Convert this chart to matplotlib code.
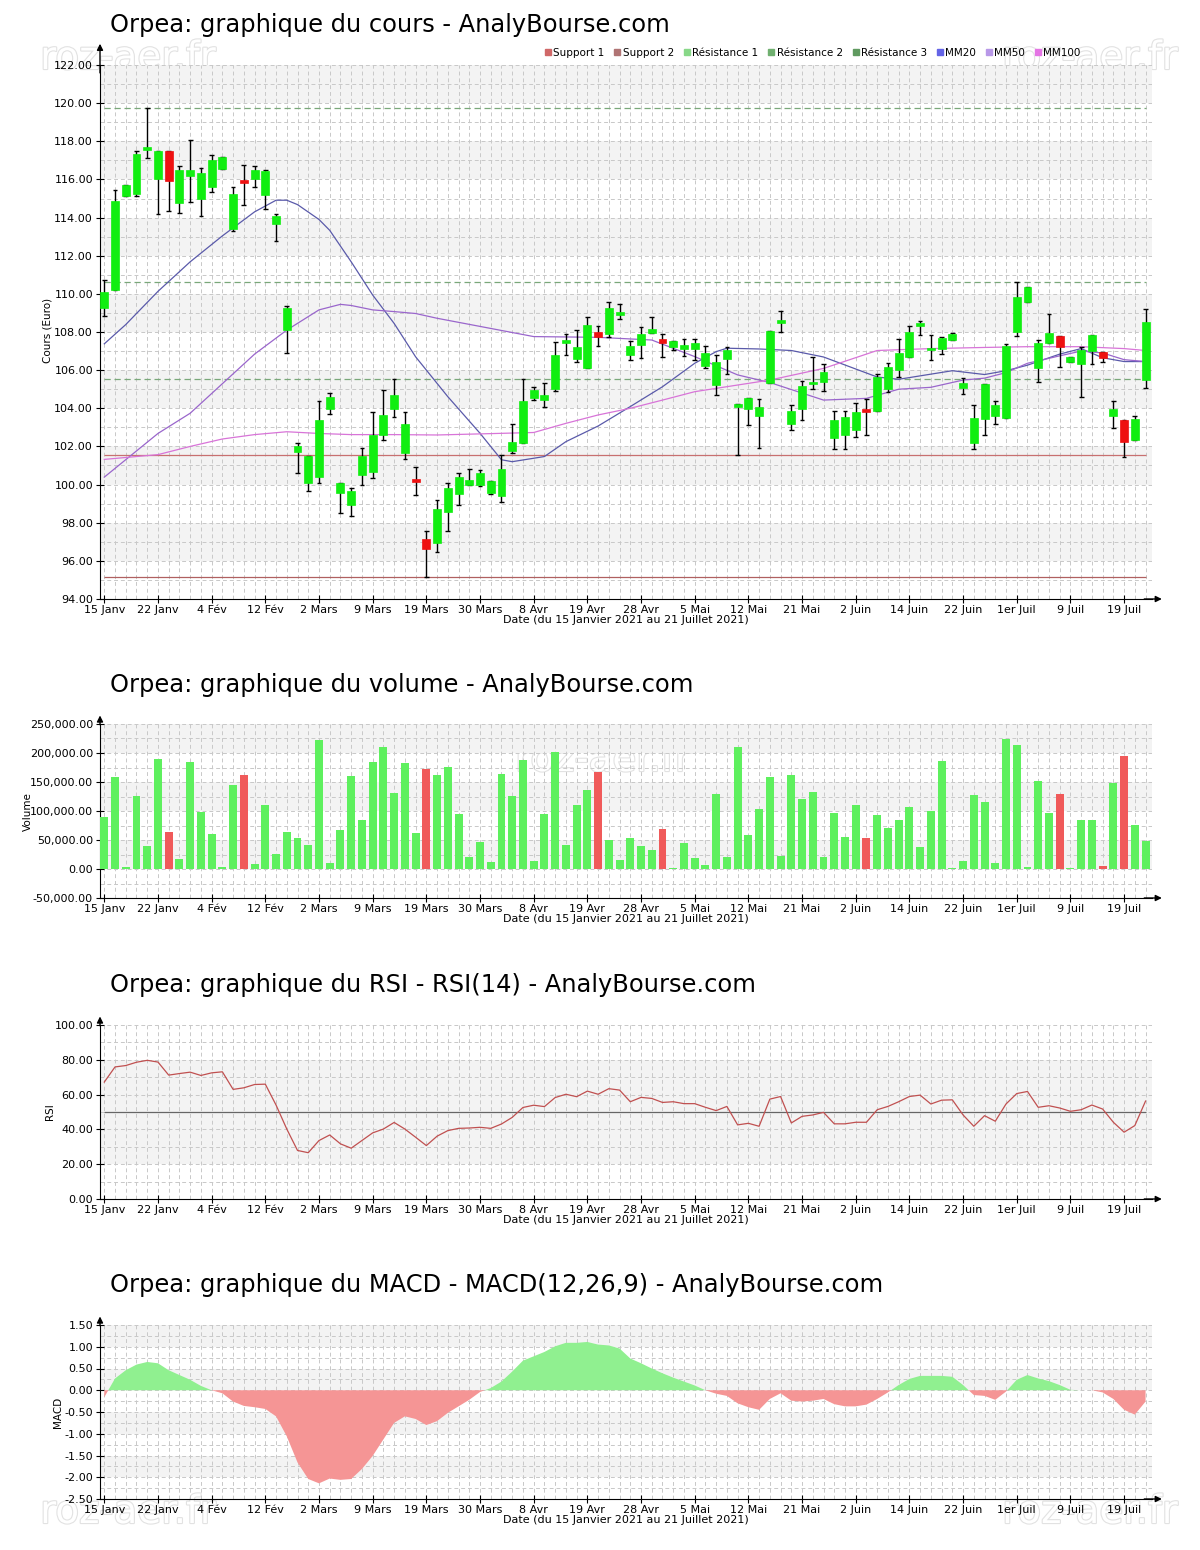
import numpy as np
import matplotlib
matplotlib.use("Agg")
import matplotlib.pyplot as plt
from matplotlib.patches import Rectangle
from matplotlib.lines import Line2D
import matplotlib.patheffects as pe

# ---- données (98 séances) ----
tick_labels = ['15 Janv', '22 Janv', '4 Fév', '12 Fév', '2 Mars', '9 Mars', '19 Mars',
               '30 Mars', '8 Avr', '19 Avr', '28 Avr', '5 Mai', '12 Mai', '21 Mai',
               '2 Juin', '14 Juin', '22 Juin', '1er Juil', '9 Juil', '19 Juil']

opens = [109.26, 110.19, 115.13, 115.26, 117.53, 116.00, 117.49, 114.78, 116.19, 114.97,
         115.60, 116.56, 113.42, 115.95, 116.00, 115.17, 113.65, 108.10, 101.71, 100.06,
         100.39, 103.97, 99.58, 98.94, 100.49, 100.64, 102.58, 103.97, 101.65, 100.25,
         97.12, 96.93, 98.55, 99.52, 99.97, 99.97, 99.58, 99.39, 101.77, 102.19,
         104.52, 104.42, 105.00, 107.45, 106.59, 106.10, 108.00, 107.90, 108.93, 106.78,
         107.32, 107.94, 107.65, 107.23, 107.09, 107.09, 106.22, 105.23, 106.61, 104.07,
         103.94, 103.61, 105.33, 108.50, 103.16, 103.94, 105.28, 105.39, 102.43, 102.62,
         102.87, 103.92, 103.84, 105.00, 106.01, 106.70, 108.33, 107.03, 107.13, 107.58,
         105.06, 102.19, 103.45, 103.59, 103.51, 108.00, 109.55, 106.10, 107.42, 107.81,
         106.41, 106.30, 107.00, 106.94, 103.59, 103.41, 102.35, 105.48]
highs = [110.71, 115.44, 115.71, 117.49, 119.75, 117.50, 117.49, 116.68, 118.05, 116.58,
         117.26, 117.20, 115.59, 116.77, 116.68, 116.52, 114.20, 109.36, 102.19, 101.52,
         104.38, 104.81, 100.10, 99.83, 101.94, 103.78, 104.94, 105.52, 103.82, 100.93,
         97.55, 99.19, 100.10, 100.61, 100.80, 100.78, 100.20, 101.56, 103.16, 105.52,
         105.10, 105.33, 107.48, 107.87, 108.10, 108.78, 108.29, 109.59, 109.45, 107.52,
         108.25, 108.78, 107.87, 107.52, 107.65, 107.65, 107.27, 106.78, 107.19, 104.23,
         104.56, 104.48, 108.04, 109.12, 104.17, 105.45, 106.70, 106.30, 103.88, 103.88,
         104.29, 104.48, 105.78, 106.36, 107.65, 108.33, 108.58, 107.85, 107.75, 107.96,
         105.58, 104.17, 105.29, 104.38, 107.36, 110.62, 110.36, 107.58, 108.93, 107.81,
         106.70, 107.19, 107.85, 106.94, 104.38, 103.41, 103.59, 109.20]
lows = [108.83, 110.19, 115.13, 115.13, 117.10, 114.20, 114.37, 114.24, 114.82, 114.10,
        115.36, 116.56, 113.27, 114.64, 115.59, 114.43, 112.76, 106.90, 100.59, 99.64,
        100.10, 103.70, 98.50, 98.36, 99.97, 100.35, 102.35, 103.55, 101.36, 99.43,
        95.13, 96.48, 97.59, 98.94, 99.97, 99.93, 99.50, 99.10, 101.65, 102.19,
        104.42, 104.09, 104.90, 106.80, 106.45, 106.10, 107.29, 107.75, 108.68, 106.55,
        106.65, 107.94, 106.69, 107.07, 106.74, 106.55, 106.12, 104.71, 105.78, 101.56,
        103.13, 101.90, 105.33, 108.00, 102.87, 103.36, 105.00, 104.90, 101.84, 101.84,
        102.48, 102.58, 103.84, 104.87, 105.64, 106.70, 107.85, 106.55, 106.84, 107.58,
        104.75, 101.84, 102.58, 103.16, 103.51, 107.81, 109.55, 105.39, 107.42, 106.16,
        106.41, 104.61, 106.30, 106.41, 102.97, 101.46, 102.35, 105.06]
closes = [110.09, 114.87, 115.71, 117.33, 117.72, 117.49, 115.94, 116.52, 116.52, 116.33,
          117.00, 117.20, 115.26, 115.85, 116.48, 116.44, 114.06, 109.26, 102.04, 101.52,
          103.36, 104.61, 100.10, 99.68, 101.52, 102.62, 103.63, 104.71, 103.16, 100.15,
          96.64, 98.71, 99.83, 100.39, 100.26, 100.61, 100.20, 100.84, 102.23, 104.38,
          104.94, 104.71, 106.80, 107.52, 107.23, 108.39, 107.75, 109.26, 109.00, 107.27,
          107.87, 108.14, 107.42, 107.52, 107.32, 107.42, 106.90, 106.45, 107.03, 104.23,
          104.56, 104.09, 108.04, 108.58, 103.84, 105.19, 105.38, 105.91, 103.41, 103.55,
          103.78, 103.84, 105.62, 106.16, 106.88, 108.00, 108.45, 107.17, 107.71, 107.87,
          105.35, 103.51, 105.29, 104.17, 107.29, 109.84, 110.36, 107.42, 107.94, 107.19,
          106.70, 107.07, 107.85, 106.65, 103.97, 102.23, 103.45, 108.54]

support = [101.56, 95.13]
resistance = [105.52, 110.62, 119.75]

mm20_idx = [0, 2, 5, 8, 11, 14, 16, 17, 18, 20, 21, 23, 25, 27, 29, 32, 35, 37, 38, 41,
            43, 46, 49, 52, 55, 57, 58, 61, 64, 67, 72, 74, 79, 82, 84, 86, 89, 91, 93, 95, 97]
mm20_val = [107.38, 108.39, 110.13, 111.68, 113.04, 114.30, 114.91, 114.91, 114.68, 113.90,
            113.33, 111.68, 109.94, 108.45, 106.70, 104.61, 102.69, 101.30, 101.20, 101.47,
            102.25, 103.07, 104.09, 105.13, 106.36, 106.97, 107.15, 107.11, 107.03, 106.69,
            105.64, 105.52, 105.97, 105.77, 105.97, 106.26, 106.84, 107.13, 106.65, 106.45, 106.45]
mm50_idx = [0, 5, 8, 11, 14, 17, 20, 22, 23, 25, 27, 29, 31, 40, 46, 51, 55, 59, 62, 67,
            71, 74, 77, 80, 82, 84, 86, 89, 91, 93, 95, 97]
mm50_val = [100.39, 102.68, 103.74, 105.29, 106.84, 108.10, 109.16, 109.45, 109.39, 109.16,
            109.07, 108.97, 108.72, 107.76, 107.72, 107.58, 106.71, 105.75, 105.35, 104.43,
            104.52, 105.00, 105.10, 105.48, 105.58, 105.87, 106.36, 106.75, 107.00, 106.90,
            106.55, 106.45]
mm100_idx = [0, 5, 8, 11, 14, 17, 20, 23, 27, 31, 40, 43, 46, 49, 52, 55, 59, 62, 67, 72,
             77, 82, 86, 91, 95, 97]
mm100_val = [101.32, 101.57, 102.00, 102.39, 102.62, 102.77, 102.68, 102.62, 102.62, 102.60,
             102.73, 103.21, 103.65, 104.00, 104.43, 104.87, 105.22, 105.48, 106.09, 107.03,
             107.13, 107.19, 107.23, 107.23, 107.13, 107.03]

# volume en milliers
volume = [89.8, 158.5, 4.0, 126.4, 38.9, 190.0, 64.6, 16.6, 184.8, 99.0,
          59.5, 4.0, 145.3, 162.5, 8.0, 111.0, 25.2, 64.6, 52.6, 40.6,
          223.0, 9.7, 66.4, 160.8, 85.2, 184.8, 210.5, 131.6, 183.0, 62.9,
          172.8, 162.5, 176.2, 95.5, 20.0, 45.8, 11.4, 164.2, 125.9, 188.2,
          13.7, 95.5, 201.0, 41.0, 111.0, 136.7, 167.0, 50.3, 14.9, 52.6,
          38.9, 32.0, 69.8, 2.3, 44.6, 18.3, 6.3, 129.9, 20.0, 210.5,
          58.4, 104.1, 159.0, 22.3, 162.5, 121.3, 133.3, 20.0, 97.3, 56.0,
          111.0, 54.3, 93.8, 71.5, 85.2, 107.6, 37.2, 100.7, 186.5, 2.3,
          13.2, 128.2, 116.1, 9.7, 224.3, 214.0, 4.0, 152.2, 97.3, 129.9,
          2.3, 85.2, 85.2, 4.6, 148.7, 195.0, 76.7, 48.0]
vol_red = [6, 13, 30, 46, 52, 71, 89, 93, 95]

rsi = [67.2, 75.9, 76.7, 78.6, 79.7, 78.7, 71.2, 72.1, 72.9, 71.0,
       72.5, 73.1, 63.0, 63.9, 65.8, 66.0, 54.0, 40.2, 27.9, 26.6,
       33.6, 36.8, 31.7, 29.2, 33.6, 38.0, 40.2, 44.0, 40.2, 35.5,
       30.7, 36.1, 39.3, 40.6, 40.8, 41.2, 40.6, 43.1, 46.9, 52.6,
       53.9, 53.1, 58.3, 60.2, 58.8, 62.0, 60.2, 63.4, 62.6, 55.9,
       58.4, 57.8, 55.5, 55.9, 54.8, 54.8, 52.7, 50.8, 53.2, 42.6,
       43.5, 41.8, 57.4, 58.9, 43.7, 47.5, 48.3, 49.8, 43.2, 43.2,
       44.1, 44.1, 51.3, 53.2, 55.9, 58.9, 59.7, 54.6, 56.8, 57.0,
       48.3, 41.8, 47.9, 44.7, 54.6, 60.6, 61.8, 52.7, 53.6, 52.3,
       50.4, 51.3, 54.0, 51.7, 44.1, 38.4, 42.2, 56.3]

macd = [-0.16, 0.27, 0.46, 0.59, 0.65, 0.62, 0.46, 0.35, 0.24, 0.10,
        0.00, -0.07, -0.26, -0.36, -0.39, -0.43, -0.60, -1.06, -1.66, -2.04,
        -2.14, -2.03, -2.06, -2.04, -1.81, -1.51, -1.13, -0.75, -0.60, -0.66,
        -0.80, -0.71, -0.52, -0.37, -0.22, -0.04, 0.05, 0.20, 0.43, 0.68,
        0.78, 0.88, 1.01, 1.09, 1.09, 1.11, 1.05, 1.03, 0.96, 0.73,
        0.62, 0.50, 0.39, 0.29, 0.20, 0.11, 0.00, -0.08, -0.13, -0.30,
        -0.39, -0.45, -0.20, -0.07, -0.24, -0.26, -0.24, -0.20, -0.32, -0.37,
        -0.37, -0.33, -0.20, -0.05, 0.12, 0.26, 0.33, 0.33, 0.33, 0.31,
        0.12, -0.11, -0.13, -0.22, -0.03, 0.24, 0.35, 0.27, 0.21, 0.12,
        0.01, 0.00, 0.00, -0.05, -0.20, -0.45, -0.56, -0.26]

plt.rcParams['font.family'] = ['DejaVu Sans']

W, H = 1200, 1550
fig = plt.figure(figsize=(W / 100, H / 100), dpi=100)
n = len(closes)
x = np.arange(n)


def make_axes(top, bottom):
    ax = fig.add_axes([100 / W, 1 - bottom / H, 1052 / W, (bottom - top) / H])
    ax.set_facecolor('none')
    return ax


def alt_bands(ymin, ymax, step):
    k = int(round((ymax - ymin) / step))
    return [(ymax - (j + 1) * step, ymax - j * step) for j in range(0, k, 2)]


def habille(ax, ymin, ymax, step, bands, arrow_h):
    ax.set_xlim(-0.4, 97.6)
    ax.set_ylim(ymin, ymax)
    yt = np.arange(ymin, ymax + step / 2, step)
    ax.set_yticks(yt)
    ax.set_yticklabels(['{:,.2f}'.format(v) for v in yt], fontsize=8)
    ax.set_yticks(np.arange(ymin + step / 2, ymax, step), minor=True)
    ax.set_xticks(np.arange(0, n, 5))
    ax.set_xticklabels(tick_labels, fontsize=8)
    ax.set_xticks(x, minor=True)
    ax.tick_params(which='minor', length=0)
    ax.tick_params(axis='x', which='major', length=6, direction='inout', pad=1)
    ax.tick_params(axis='y', which='major', length=6, direction='inout', pad=2)
    ax.grid(True, which='both', color='#c8c8c8', linestyle=(0, (4, 3)), linewidth=0.7)
    ax.set_axisbelow(True)
    for b0, b1 in bands:
        ax.axhspan(b0, b1, color='#f3f3f3', zorder=0, lw=0)
    for s in ['top', 'right']:
        ax.spines[s].set_visible(False)
    ax.set_xlabel('Date (du 15 Janvier 2021 au 21 Juillet 2021)', fontsize=8, labelpad=0)
    ax.annotate('', xy=(0, 1 + arrow_h), xytext=(0, 0.98), xycoords='axes fraction',
                arrowprops=dict(arrowstyle='-|>', color='black', lw=1, mutation_scale=9),
                annotation_clip=False)
    ax.annotate('', xy=(1.012, 0), xytext=(0.99, 0), xycoords='axes fraction',
                arrowprops=dict(arrowstyle='-|>', color='black', lw=1, mutation_scale=9),
                annotation_clip=False)


# ---------- cours ----------
ax1 = make_axes(65, 599)
habille(ax1, 94, 122, 2, alt_bands(94, 122, 2), 0.045)
for i in range(n):
    o, h, l, c = opens[i], highs[i], lows[i], closes[i]
    col = '#ee1111' if c < o else '#11ee11'
    ax1.vlines(i, l, h, color='black', lw=1, zorder=3)
    ax1.hlines([l, h], i - 0.22, i + 0.22, color='black', lw=1, zorder=3)
    lo, hi = min(o, c), max(o, c)
    if hi - lo < 0.14:
        m = (lo + hi) / 2
        lo, hi = m - 0.07, m + 0.07
    ax1.add_patch(Rectangle((i - 0.37, lo), 0.74, hi - lo, fc=col, ec=col, lw=0.5, zorder=4))

ax1.hlines(support[0], 0, n - 1, color='#c87070', lw=0.9, zorder=2)
ax1.hlines(support[1], 0, n - 1, color='#b06060', lw=0.9, zorder=2)
for r in resistance:
    ax1.hlines(r, 0, n - 1, color='#7aa87a', lw=0.9, linestyles=(0, (5, 3)), zorder=2)
ax1.plot(mm20_idx, mm20_val, color='#5a5aaa', lw=0.9, zorder=2.5)
ax1.plot(mm50_idx, mm50_val, color='#9a66cc', lw=0.9, zorder=2.5)
ax1.plot(mm100_idx, mm100_val, color='#d874d8', lw=0.9, zorder=2.5)

leg_names = ['Support 1', 'Support 2', 'Résistance 1', 'Résistance 2', 'Résistance 3',
             'MM20', 'MM50', 'MM100']
leg_cols = ['#d06868', '#b07474', '#88d888', '#70b070', '#609a60', '#6464e6', '#b898e8', '#e474e4']
handles = [Line2D([], [], marker='s', linestyle='none', markersize=4.5, color=c, label=t)
           for t, c in zip(leg_names, leg_cols)]
fig.legend(handles=handles, ncol=8, loc='center right', bbox_to_anchor=(0.905, 1 - 53 / H),
           frameon=False, fontsize=7.5, handletextpad=0.05, columnspacing=0.8,
           handlelength=0.9, borderpad=0)

# ---------- volume ----------
ax2 = make_axes(724, 898)
habille(ax2, -50000, 250000, 50000, alt_bands(-50000, 250000, 50000), 0.065)
vcols = ['#f05a5a' if i in vol_red else '#5ef05e' for i in range(n)]
ax2.bar(x, np.array(volume) * 1000, width=0.74, color=vcols, zorder=3)

# ---------- RSI ----------
ax3 = make_axes(1025, 1199)
habille(ax3, 0, 100, 20, [(20, 80)], 0.065)
ax3.hlines(50, 0, n - 1, color='#666666', lw=0.9, zorder=2)
ax3.plot(x, rsi, color='#c05050', lw=0.9, zorder=3)

# ---------- MACD ----------
ax4 = make_axes(1325, 1499)
habille(ax4, -2.5, 1.5, 0.5, alt_bands(-2.5, 1.5, 0.5), 0.065)
m = np.array(macd)
ax4.fill_between(x, m, 0, where=m >= 0, interpolate=True, color='#90f090', lw=0, zorder=3)
ax4.fill_between(x, m, 0, where=m <= 0, interpolate=True, color='#f59595', lw=0, zorder=3)

# ---------- titres et libellés ----------
titles = [(25, 'Orpea: graphique du cours - AnalyBourse.com'),
          (685, 'Orpea: graphique du volume - AnalyBourse.com'),
          (985, 'Orpea: graphique du RSI - RSI(14) - AnalyBourse.com'),
          (1285, 'Orpea: graphique du MACD - MACD(12,26,9) - AnalyBourse.com')]
for yy, t in titles:
    fig.text(110 / W, 1 - yy / H, t, fontsize=17.4, ha='left', va='center')

for xx, yy, t in [(48, 330, 'Cours (Euro)'), (28, 812, 'Volume'), (50, 1112, 'RSI'), (58, 1412, 'MACD')]:
    fig.text(xx / W, 1 - yy / H, t, rotation=90, fontsize=7.5, ha='center', va='center')

# filigranes (derrière les axes)
for xx, yy in [(128, 58), (1090, 58), (603, 760), (128, 1512), (1090, 1512)]:
    fig.text(xx / W, 1 - yy / H, 'roz-aer.fr', fontsize=28, color='white', ha='center',
             va='center', zorder=-1,
             path_effects=[pe.withStroke(linewidth=1.6, foreground='#e2e2e2')])

fig.savefig('out.png', dpi=100)
